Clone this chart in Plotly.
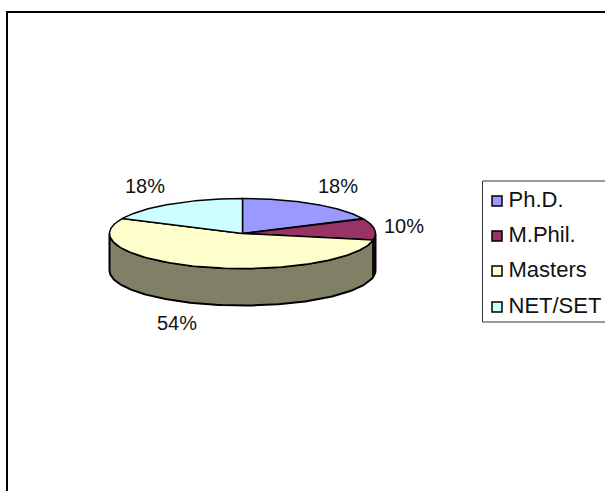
import numpy as np
import plotly.graph_objects as go

categories = ["Ph.D.", "M.Phil.", "Masters", "NET/SET"]
shares = [18, 10, 54, 18]
top_colors = ["#9999FF", "#993366", "#FFFFCC", "#CCFFFF"]
side_colors = ["#4C4C80", "#4C1A33", "#808066", "#668080"]
label_pos = [(338, 188), (404, 228), (177, 325), (145, 188)]
legend_rows = [201, 236, 271, 307]

W, H = 605, 491
CX, CY, RX, RY, DEPTH = 242.5, 233.5, 133, 35, 37
FONT = "Liberation Sans"

def px(t):
    return CX + RX * np.sin(t)

def py(t, d=0):
    return CY - RY * np.cos(t) + d

fig = go.Figure()
edges = np.cumsum([0] + shares) / sum(shares) * 2 * np.pi

# Side walls: only the front half (angles 90..270 degrees) is visible
for i in range(len(shares)):
    a = max(edges[i], np.pi / 2)
    b = min(edges[i + 1], 3 * np.pi / 2)
    if b <= a:
        continue
    t = np.linspace(a, b, 120)
    xs = np.r_[px(t), px(t[::-1]), px(t[0])]
    ys = np.r_[py(t), py(t[::-1], DEPTH), py(t[0])]
    fig.add_trace(go.Scatter(x=xs, y=ys, mode="lines", fill="toself",
                             fillcolor=side_colors[i],
                             line=dict(color="black", width=2),
                             hoverinfo="skip", showlegend=False))

# Top faces
for i, name in enumerate(categories):
    t = np.linspace(edges[i], edges[i + 1], 160)
    xs = np.r_[CX, px(t), CX]
    ys = np.r_[CY, py(t), CY]
    fig.add_trace(go.Scatter(x=xs, y=ys, mode="lines", fill="toself",
                             fillcolor=top_colors[i],
                             line=dict(color="black", width=1.5),
                             name=name, showlegend=False))

# Percentage labels
for value, (x, y) in zip(shares, label_pos):
    fig.add_trace(go.Scatter(x=[x], y=[y], mode="text", text=[f"{value}%"],
                             textposition="middle center",
                             textfont=dict(family=FONT, size=20, color="#111111"),
                             hoverinfo="skip", showlegend=False))

# Legend rows
for name, color, y in zip(categories, top_colors, legend_rows):
    fig.add_trace(go.Scatter(x=[497], y=[y], mode="markers",
                             marker=dict(symbol="square", size=10, color=color,
                                         line=dict(color="black", width=1.5)),
                             hoverinfo="skip", showlegend=False))
    fig.add_trace(go.Scatter(x=[508.5], y=[y], mode="text", text=[name],
                             textposition="middle right",
                             textfont=dict(family=FONT, size=22, color="#111111"),
                             hoverinfo="skip", showlegend=False))

fig.update_layout(
    width=W, height=H, margin=dict(l=0, r=0, t=0, b=0),
    autosize=False, paper_bgcolor="white", plot_bgcolor="white",
    xaxis=dict(range=[0, W], visible=False, fixedrange=True),
    yaxis=dict(range=[H, 0], visible=False, fixedrange=True),
    shapes=[
        dict(type="rect", xref="x", yref="y", x0=7, y0=12, x1=W + 20, y1=H + 20,
             line=dict(color="black", width=2), layer="below"),
        dict(type="rect", xref="x", yref="y", x0=482.5, y0=181, x1=W + 20, y1=322,
             line=dict(color="#333333", width=1), layer="below"),
    ],
)
fig.write_html("out.html", config={"displayModeBar": False},
               post_script="document.body.style.margin='0';document.body.style.overflow='hidden';")
